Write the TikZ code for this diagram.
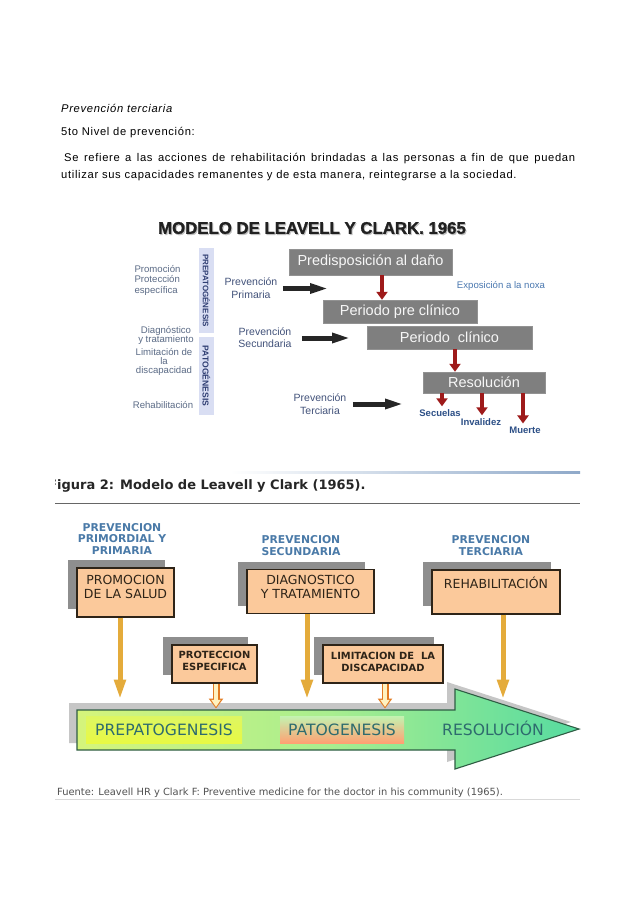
\documentclass[tikz,border=0pt]{standalone}
\usepackage{fontspec}
\setmainfont{Liberation Sans}
\newfontfamily\verdana{DejaVu Sans}
\usepackage{tikz}
\usetikzlibrary{arrows.meta, positioning, calc, shadows}
\definecolor{leftBlue}{HTML}{5B6B86}
\definecolor{midBlue}{HTML}{42527A}
\definecolor{barLav}{HTML}{D9DEF3}
\definecolor{barNavy}{HTML}{2F3E72}
\definecolor{boxGray}{HTML}{7F7F7F}
\definecolor{darkRed}{HTML}{9E1A1A}
\definecolor{expoBlue}{HTML}{4A78B0}
\definecolor{outcomeBlue}{HTML}{2C4F86}
\definecolor{steelBlue}{HTML}{4A7AA8}
\definecolor{peach}{HTML}{FBC99B}
\definecolor{boxBorder}{HTML}{2E2418}
\definecolor{shadowGray}{HTML}{8E8E8E}
\definecolor{goldArrow}{HTML}{E4AB3B}
\definecolor{hollowLine}{HTML}{E27B22}
\definecolor{hollowFill}{HTML}{FFF2C0}
\definecolor{arrowShadow}{HTML}{C6C6C6}
\definecolor{arrowBorder}{HTML}{2F5D44}
\definecolor{greenLeft}{HTML}{D5F47B}
\definecolor{greenMid}{HTML}{A9EE8F}
\definecolor{greenRight}{HTML}{56DBA0}
\definecolor{tealText}{HTML}{2E6B6E}
\definecolor{lineBlue}{HTML}{8FA9C9}

\begin{document}
\begin{tikzpicture}[x=1pt, y=-1pt,
      bodytext/.style={anchor=base west, inner sep=0, font=\fontsize{11.2}{13}\selectfont\addfontfeatures{LetterSpace=6}},
      leftcol/.style={inner sep=0, align=center, text=leftBlue, font=\fontsize{9.6}{10.5}\selectfont},
      prevtext/.style={inner sep=0, align=center, text=midBlue, font=\fontsize{10.5}{13}\selectfont},
      stagebox/.style={rectangle, fill=boxGray, draw=boxGray!85!white, text=white!94!gray, inner sep=0, font=\fontsize{14.5}{16}\selectfont},
      phasebar/.style={rectangle, fill=barLav, inner sep=0, rotate=-90, text=barNavy, font=\bfseries\fontsize{8}{9}\selectfont},
      outcome/.style={inner sep=0, text=outcomeBlue, font=\bfseries\fontsize{9.5}{10}\selectfont},
      redarrow/.style={draw=darkRed, line width=4.5pt, -{Triangle[length=8pt, width=11pt]}},
      blackarrow/.style={draw=black!85, line width=5pt, -{Triangle[length=20pt, width=9pt]}},
      prevlabel/.style={inner sep=0, align=center, text=steelBlue, font=\verdana\bfseries\fontsize{10.8}{11.5}\selectfont},
      peachbox/.style={rectangle, fill=peach, draw=boxBorder, line width=1.4pt, inner sep=0, align=center, text=boxBorder,
        font=\verdana\fontsize{12.5}{14}\selectfont, drop shadow={shadow xshift=-9pt, shadow yshift=8pt, opacity=1, fill=shadowGray}},
      smallpeach/.style={peachbox, font=\verdana\bfseries\fontsize{9.9}{12}\selectfont},
      goldarrow/.style={draw=goldArrow, line width=5pt, -{Triangle[length=20pt, width=11pt]}},
      hollowout/.style={draw=hollowLine, line width=7pt, -{Triangle[length=10pt, width=14pt]}},
      hollowin/.style={draw=hollowFill, line width=4pt, shorten >=1.6pt, -{Triangle[length=7pt, width=9pt]}},
      phasetext/.style={inner sep=0, text=tealText, font=\verdana\fontsize{15.6}{17}\selectfont}]

  \path[use as bounding box, fill=white] (0,0) rectangle (638,903);

  \node[bodytext, font=\itshape\fontsize{11.2}{13}\selectfont\addfontfeatures{LetterSpace=6}] (heading) at (61,112) {Prevención terciaria};
  \node[bodytext] (level) at (61,135) {5to Nivel de prevención:};
  \node[bodytext] (defA) at (64,161) {\makebox[511pt][s]{Se refiere a las acciones de rehabilitación brindadas a las personas a fin de que puedan}};
  \node[bodytext] (defB) at (61,178) {utilizar sus capacidades remanentes y de esta manera, reintegrarse a la sociedad.};

  % Modelo de Leavell y Clark (esquema 1)
  \node[text=black!25, font=\bfseries\fontsize{16.8}{18}\selectfont\addfontfeatures{FakeBold=1.2}, inner sep=0] (modelshadow) at (313,229.2) {MODELO DE LEAVELL Y CLARK. 1965};
  \node[text=black!87, font=\bfseries\fontsize{16.8}{18}\selectfont\addfontfeatures{FakeBold=1.2}, inner sep=0] (modeltitle) at (312,228) {MODELO DE LEAVELL Y CLARK. 1965};

  \node[leftcol, align=left] (promo) at (157.5,280) {Promoción\\Protección\\específica};
  \node[leftcol, font=\fontsize{9.6}{9}\selectfont] (diag) at (166,335.5) {Diagnóstico\\y tratamiento};
  \node[leftcol, font=\fontsize{9.6}{9}\selectfont] (limit) at (164,361.5) {Limitación de\\la\\discapacidad};
  \node[leftcol] (rehab) at (163,405) {Rehabilitación};

  \node[phasebar, minimum width=85pt, minimum height=15pt] (prepatoBar) at (206.5,290.5) {PREPATOGÉNESIS};
  \node[phasebar, minimum width=78pt, minimum height=15pt, font=\bfseries\fontsize{8.6}{9}\selectfont] (patoBar) at (206.5,376) {PATOGÉNESIS};

  \node[prevtext] (prevprim) at (251,288.5) {Prevención\\Primaria};
  \node[prevtext, font=\fontsize{10.5}{12}\selectfont] (prevsec) at (265,338) {Prevención\\Secundaria};
  \node[prevtext] (prevter) at (320,404) {Prevención\\Terciaria};

  \coordinate (primEnd) at (330,288.5);
  \coordinate (secEnd) at (352,338);
  \coordinate (terEnd) at (405,404);

  \node[stagebox, minimum width=163pt, minimum height=26pt] (predis) at (370.5,262) {Predisposición al daño};
  \node[stagebox, minimum width=154pt, minimum height=23pt] (preclin) at (400,311.5) {Periodo pre clínico};
  \node[stagebox, minimum width=165pt, minimum height=23pt] (clin) at (449.5,337.5) {Periodo\ \ clínico};
  \node[stagebox, minimum width=122pt, minimum height=21pt] (resol) at (484,382.5) {Resolución};

  \node[inner sep=0, text=expoBlue, font=\fontsize{9.6}{10}\selectfont] (expo) at (501,286) {Exposición a la noxa};

  \node[outcome] (secuelas) at (440,413) {Secuelas};
  \node[outcome] (invalidez) at (481,422) {Invalidez};
  \node[outcome] (muerte) at (525,430) {Muerte};

  \draw[blackarrow] ([xshift=5.5pt]prevprim.east) -- (primEnd);
  \draw[blackarrow] ([xshift=10pt]prevsec.east) -- (secEnd);
  \draw[blackarrow] ([xshift=6.5pt]prevter.east) -- (terEnd);

  \draw[redarrow] ([xshift=11.5pt]predis.south) -- ([xshift=11.5pt]predis.south |- preclin.north);
  \draw[redarrow] ([xshift=5.5pt]clin.south) -- ([xshift=5.5pt]clin.south |- resol.north);
  \draw[redarrow, shorten >=3pt] ([xshift=-42pt]resol.south) -- ([xshift=-42pt]resol.south |- secuelas.north);
  \draw[redarrow, shorten >=3pt] ([xshift=-2pt]resol.south) -- ([xshift=-2pt]resol.south |- invalidez.north);
  \draw[redarrow, shorten >=3pt] ([xshift=39pt]resol.south) -- ([xshift=39pt]resol.south |- muerte.north);

  % Figura 2
  \begin{scope}
    \clip (55,460) rectangle (585,810);

    \shade[left color=white, right color=lineBlue] (230,471.5) rectangle (580,473.5);
    \node[anchor=base west, inner sep=0, text=black!85, font=\verdana\bfseries\fontsize{13}{15}\selectfont] (figtitle) at (48,489.5) {Figura 2: Modelo de Leavell y Clark (1965).};
    \draw[black!60, line width=0.8pt] (55,503) -- (580,503);

    \node[prevlabel] (prevA) at (122,538.5) {PREVENCION\\PRIMORDIAL Y\\PRIMARIA};
    \node[prevlabel] (prevB) at (301,545.5) {PREVENCION\\SECUNDARIA};
    \node[prevlabel] (prevC) at (491,545.5) {PREVENCION\\TERCIARIA};

    \node[peachbox, minimum width=97pt, minimum height=49pt, text depth=12pt] (promoBox) at (125.5,592.5) {PROMOCION\\DE LA SALUD};
    \node[peachbox, minimum width=127pt, minimum height=44pt, text depth=10pt] (diagBox) at (310.5,591.5) {DIAGNOSTICO\\Y TRATAMIENTO};
    \node[peachbox, minimum width=128pt, minimum height=44pt, text depth=18pt] (rehabBox) at (496,592) {REHABILITACIÓN};

    \node[smallpeach, minimum width=85pt, minimum height=38pt, text depth=6pt] (protBox) at (214.5,664) {PROTECCION\\ESPECIFICA};
    \node[smallpeach, minimum width=120pt, minimum height=38pt, text depth=4pt] (limitBox) at (383,664) {LIMITACION DE\ \ LA\\DISCAPACIDAD};

    \coordinate (shadowTop) at (0,699.5);
    \coordinate (bodyTop) at (0,708.5);

    % flecha grande
    \fill[arrowShadow] (69,703) -- (447,703) -- (447,682) -- (571,722) -- (447,762) -- (447,743) -- (69,743) -- cycle;
    \draw[draw=arrowBorder, line width=1.1pt, left color=greenLeft, right color=greenRight, middle color=greenMid]
      (77,710) -- (455,710) -- (455,689) -- (579,729) -- (455,769) -- (455,750) -- (77,750) -- cycle;

    \node[phasetext, minimum width=156pt, minimum height=27pt, top color=greenLeft!80!yellow, bottom color=yellow!45!greenLeft] (prepato) at (164,729.5) {PREPATOGENESIS};
    \node[phasetext, minimum width=124pt, minimum height=27pt, top color=greenMid!70!white, bottom color=red!35!orange!55!white] (pato) at (342,729.5) {PATOGENESIS};
    \node[phasetext] (resolucion) at (493,728) {RESOLUCIÓN};

    \draw[goldarrow] ([xshift=-5.5pt]promoBox.south) -- ([xshift=-5.5pt]promoBox.south |- shadowTop);
    \draw[goldarrow] ([xshift=-3.5pt]diagBox.south) -- ([xshift=-3.5pt]diagBox.south |- shadowTop);
    \draw[goldarrow] ([xshift=7pt]rehabBox.south) -- ([xshift=7pt]rehabBox.south |- shadowTop);

    \draw[hollowout] ([xshift=1.5pt]protBox.south) -- ([xshift=1.5pt]protBox.south |- bodyTop);
    \draw[hollowin] ([xshift=1.5pt]protBox.south) -- ([xshift=1.5pt]protBox.south |- bodyTop);
    \draw[hollowout] ([xshift=2pt]limitBox.south) -- ([xshift=2pt]limitBox.south |- bodyTop);
    \draw[hollowin] ([xshift=2pt]limitBox.south) -- ([xshift=2pt]limitBox.south |- bodyTop);

    \node[anchor=base west, inner sep=0, text=black!68, font=\verdana\fontsize{9.9}{11}\selectfont] (fuente) at (57,795) {Fuente: Leavell HR y Clark F: Preventive medicine for the doctor in his community (1965).};
    \draw[black!15, line width=0.8pt] (55,799.5) -- (580,799.5);
  \end{scope}
\end{tikzpicture}
\end{document}
